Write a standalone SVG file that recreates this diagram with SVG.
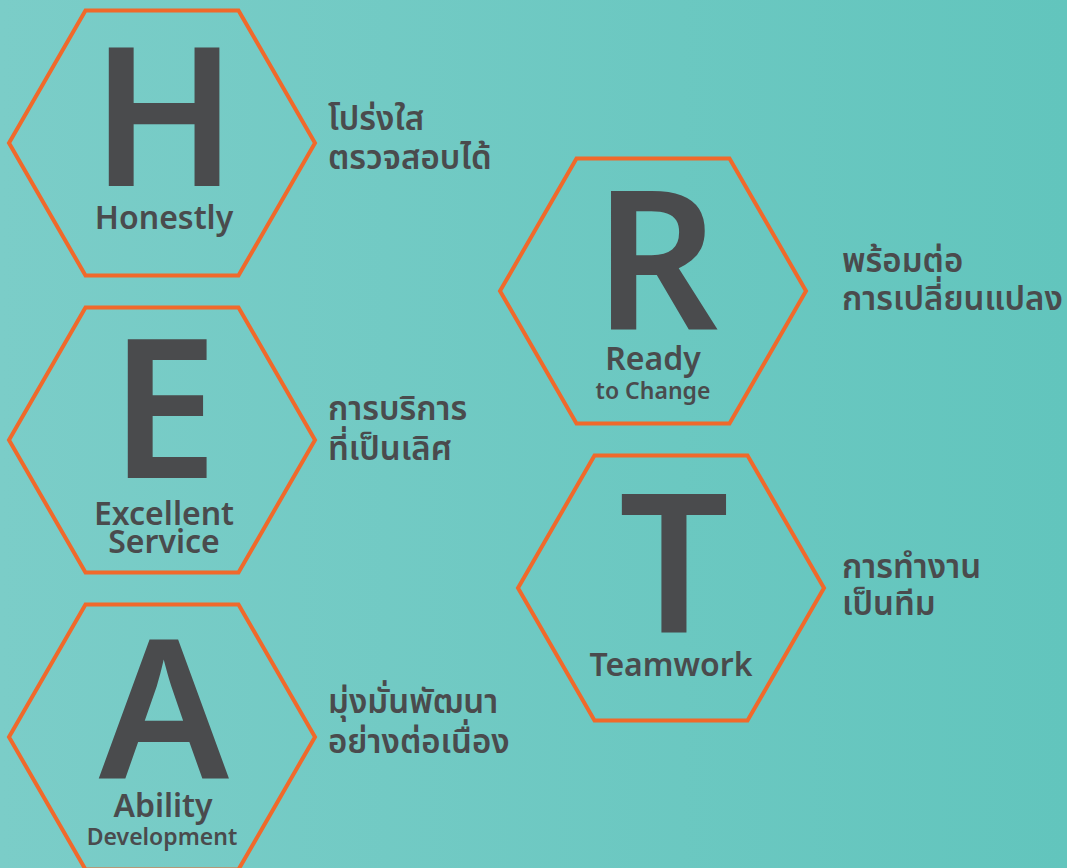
<svg xmlns="http://www.w3.org/2000/svg" width="1067" height="868" viewBox="0 0 1067 868">
  <defs>
    <linearGradient id="bg" x1="0" y1="0" x2="1" y2="0">
      <stop offset="0" stop-color="#7bcdc8"/>
      <stop offset="1" stop-color="#62c5bd"/>
    </linearGradient>
    <!-- regular flat-topped hexagon, radius 153, centred on the origin -->
    <polygon id="hex" points="-153,0 -76.5,-132.5 76.5,-132.5 153,0 76.5,132.5 -76.5,132.5"/>
  </defs>
  <style>
    .hex { fill: none; stroke: #f0692b; stroke-width: 4; }
    .big { font-family: "Noto Sans", "Open Sans", sans-serif; font-weight: 600; font-size: 194px; fill: #4a4b4d; text-anchor: middle; }
    .lbl { font-family: "Noto Sans", "Open Sans", sans-serif; font-weight: 600; font-size: 32px; fill: #4a4b4d; text-anchor: middle; }
    .sub { font-family: "Noto Sans", "Open Sans", sans-serif; font-weight: 600; font-size: 23px; fill: #4a4b4d; text-anchor: middle; }
    .th { font-family: "Noto Sans Thai", "Noto Sans", sans-serif; font-weight: 600; font-size: 33px; fill: #4a4b4d; }
  </style>

  <rect width="1067" height="868" fill="url(#bg)"/>

  <g id="node-h">
    <use href="#hex" class="hex" x="162" y="143"/>
    <text class="big" x="164" y="186">H</text>
    <text class="lbl" x="164" y="229">Honestly</text>
    <text class="th" x="328" y="130">โปร่งใส</text>
    <text class="th" x="328" y="169">ตรวจสอบได้</text>
  </g>

  <g id="node-e">
    <use href="#hex" class="hex" x="162" y="440"/>
    <text class="big" x="164" y="478">E</text>
    <text class="lbl" x="164" y="525">Excellent</text>
    <text class="lbl" x="164" y="553">Service</text>
    <text class="th" x="328" y="420">การบริการ</text>
    <text class="th" x="328" y="460">ที่เป็นเลิศ</text>
  </g>

  <g id="node-a">
    <use href="#hex" class="hex" x="162" y="737"/>
    <text class="big" x="164" y="778">A</text>
    <text class="lbl" x="163" y="817">Ability</text>
    <text class="sub" x="162" y="845">Development</text>
    <text class="th" x="328" y="713">มุ่งมั่นพัฒนา</text>
    <text class="th" x="328" y="753">อย่างต่อเนื่อง</text>
  </g>

  <g id="node-r">
    <use href="#hex" class="hex" x="653" y="291"/>
    <text class="big" x="656" y="330">R</text>
    <text class="lbl" x="653" y="370">Ready</text>
    <text class="sub" x="653" y="399" font-size="24">to Change</text>
    <text class="th" x="842" y="272">พร้อมต่อ</text>
    <text class="th" x="842" y="310">การเปลี่ยนแปลง</text>
  </g>

  <g id="node-t">
    <use href="#hex" class="hex" x="671" y="588"/>
    <text class="big" x="674" y="632">T</text>
    <text class="lbl" x="671" y="676">Teamwork</text>
    <text class="th" x="842" y="578">การทำงาน</text>
    <text class="th" x="842" y="615">เป็นทีม</text>
  </g>

  <g id="connectors"/>
</svg>
